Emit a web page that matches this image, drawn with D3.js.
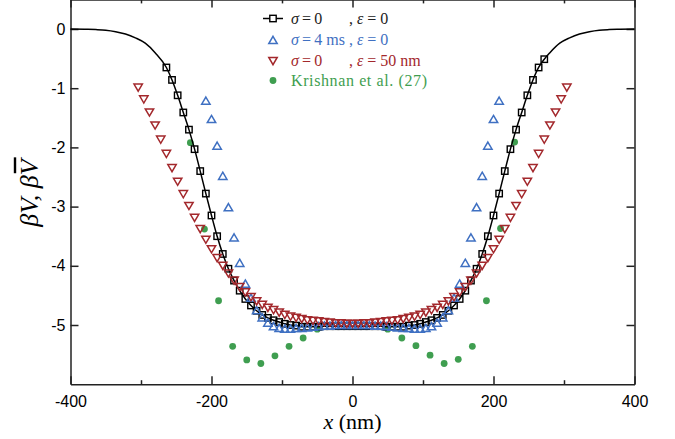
<!DOCTYPE html>
<html>
<head>
<meta charset="utf-8">
<script src="https://cdn.jsdelivr.net/npm/d3@7"></script>
<style>
  body { margin: 0; background: #fff; }
  svg { display: block; }
</style>
</head>
<body>
<svg id="chart" width="675" height="439"></svg>
<script>
// ---- data -------------------------------------------------------------
// sigma = 0, epsilon = 0 : sampled points (drawn with square markers)
const xBlack = [-264,-256,-248,-240,-232,-224,-216,-208,-200,-192,-184,-176,-168,-160,-152,-144,-136,-128,-120,-112,-104,-96,-88,-80,-72,-64,-56,-48,-40,-32,-24,-16,-8,
  0,8,16,24,32,40,48,56,64,72,80,88,96,104,112,120,128,136,144,152,160,168,176,184,192,200,208,216,224,232,240,248,256,264,272];
const vBlack = [-0.65,-0.86,-1.12,-1.41,-1.70,-2.03,-2.40,-2.78,-3.15,-3.50,-3.80,-4.05,-4.25,-4.42,-4.56,-4.67,-4.76,-4.83,-4.88,-4.92,-4.95,-4.98,-5.00,-5.01,-5.03,-5.03,-5.03,-5.03,-5.02,-5.02,-5.02,-5.02,-5.02,
  -5.02,-5.02,-5.02,-5.02,-5.02,-5.02,-5.03,-5.03,-5.03,-5.03,-5.01,-5.00,-4.98,-4.95,-4.92,-4.88,-4.83,-4.76,-4.67,-4.56,-4.42,-4.25,-4.05,-3.80,-3.50,-3.15,-2.78,-2.40,-2.03,-1.70,-1.41,-1.12,-0.86,-0.65,-0.51];
// tails of the same curve beyond the sampled range (line only)
const xTailLeft  = [-400,-380,-364,-350,-336,-322,-308,-294,-280];
const vTailLeft  = [0.00,-0.005,-0.01,-0.02,-0.045,-0.085,-0.15,-0.24,-0.40];
const xTailRight = [280,294,308,322,336,350,364,380,400];
const vTailRight = [-0.40,-0.24,-0.15,-0.085,-0.045,-0.02,-0.01,-0.005,0.00];

// sigma = 4 ms, epsilon = 0
const xBlue = [-208,-200,-192,-184,-176,-168,-160,-152,-144,-136,-128,-120,-112,-104,-96,-88,-80,-72,-64,-56,-48,-40,-32,-24,-16,-8,
  0,8,16,24,32,40,48,56,64,72,80,88,96,104,112,120,128,136,144,152,160,168,176,184,192,200,208];
const vBlue = [-1.22,-1.53,-1.98,-2.49,-3.02,-3.53,-3.96,-4.31,-4.55,-4.76,-4.88,-4.97,-5.03,-5.06,-5.07,-5.07,-5.06,-5.06,-5.05,-5.04,-5.03,-5.02,-5.02,-5.01,-5.01,-5.01,
  -5.01,-5.01,-5.01,-5.01,-5.02,-5.02,-5.03,-5.04,-5.05,-5.06,-5.06,-5.07,-5.07,-5.06,-5.03,-4.97,-4.88,-4.76,-4.55,-4.31,-3.96,-3.53,-3.02,-2.49,-1.98,-1.53,-1.22];

// sigma = 0, epsilon = 50 nm
const xRed = [-304,-296,-288,-280,-272,-264,-256,-248,-240,-232,-224,-216,-208,-200,-192,-184,-176,-168,-160,-152,-144,-136,-128,-120,-112,-104,-96,-88,-80,-72,-64,-56,-48,-40,-32,-24,-16,-8,
  0,8,16,24,32,40,48,56,64,72,80,88,96,104,112,120,128,136,144,152,160,168,176,184,192,200,208,216,224,232,240,248,256,264,272,280,288,296,304];
const vRed = [-0.98,-1.18,-1.40,-1.62,-1.86,-2.10,-2.34,-2.57,-2.78,-2.98,-3.18,-3.37,-3.55,-3.71,-3.86,-3.99,-4.12,-4.24,-4.35,-4.44,-4.52,-4.59,-4.65,-4.70,-4.74,-4.78,-4.82,-4.85,-4.87,-4.89,-4.91,-4.92,-4.93,-4.94,-4.95,-4.96,-4.96,-4.97,
  -4.97,-4.97,-4.96,-4.96,-4.95,-4.94,-4.93,-4.92,-4.91,-4.89,-4.87,-4.85,-4.82,-4.78,-4.74,-4.70,-4.65,-4.59,-4.52,-4.44,-4.35,-4.24,-4.12,-3.99,-3.86,-3.71,-3.55,-3.37,-3.18,-2.98,-2.78,-2.57,-2.34,-2.10,-1.86,-1.62,-1.40,-1.18,-0.98];

// Krishnan et al. (27)
const xGreen = [-230,-210,-190,-170,-150,-130,-110,-90,-70,-50,50,70,90,110,130,150,170,190,210,230];
const vGreen = [-1.92,-3.38,-4.59,-5.36,-5.59,-5.65,-5.52,-5.36,-5.22,-5.07,-5.07,-5.22,-5.35,-5.51,-5.65,-5.58,-5.36,-4.59,-3.37,-1.91];

// axis ticks
const xMajorTicks = [-400,-200,0,200,400];
const xMinorTicks = [-300,-100,100,300];
const yTicks = [0,-1,-2,-3,-4,-5];

// ---- colours ----------------------------------------------------------
const colBlack = "#000000";
const colBlue  = "#3f70c2";
const colRed   = "#a3282c";
const colGreen = "#3f9e50";
const axisCol  = "#222222";

// ---- scales -----------------------------------------------------------
const svg = d3.select("#chart");
const x = d3.scaleLinear().domain([-400, 400]).range([70.5, 634.5]);
const y = d3.scaleLinear().domain([-6, 0.5]).range([384.2, -0.6]);

const zip = (xs, vs) => xs.map((d, i) => ({x: d, v: vs[i]}));

// ---- axes -------------------------------------------------------------
const sansFont = "'Liberation Sans', Arial, sans-serif";
const serifFont = "'Liberation Serif', 'Times New Roman', serif";

function styleAxis(g) {
  g.selectAll("path.domain").attr("stroke", axisCol).attr("stroke-width", 1.5);
  g.selectAll(".tick line").attr("stroke", axisCol).attr("stroke-width", 1.5);
  g.selectAll(".tick text").attr("fill", "#000").style("font-family", sansFont).style("font-size", "16px");
}

const yBottom = y(-6), yTop = y(0.5), xLeft = x(-400), xRight = x(400);

// bottom
svg.append("g").attr("transform", `translate(0,${yBottom})`)
  .call(d3.axisBottom(x).tickValues(xMajorTicks).tickSizeInner(-8).tickSizeOuter(0).tickPadding(11).tickFormat(d => String(d)))
  .call(styleAxis);
svg.append("g").attr("transform", `translate(0,${yBottom})`)
  .call(d3.axisBottom(x).tickValues(xMinorTicks).tickSizeInner(-4).tickSizeOuter(0).tickFormat(""))
  .call(styleAxis).select("path.domain").remove();
// top
svg.append("g").attr("transform", `translate(0,${yTop})`)
  .call(d3.axisTop(x).tickValues(xMajorTicks).tickSizeInner(-8).tickSizeOuter(0).tickFormat(""))
  .call(styleAxis);
svg.append("g").attr("transform", `translate(0,${yTop})`)
  .call(d3.axisTop(x).tickValues(xMinorTicks).tickSizeInner(-4).tickSizeOuter(0).tickFormat(""))
  .call(styleAxis).select("path.domain").remove();
// left
svg.append("g").attr("transform", `translate(${xLeft},0)`)
  .call(d3.axisLeft(y).tickValues(yTicks).tickSizeInner(-8).tickSizeOuter(0).tickPadding(5).tickFormat(d => String(d)))
  .call(styleAxis);
// right
svg.append("g").attr("transform", `translate(${xRight},0)`)
  .call(d3.axisRight(y).tickValues(yTicks).tickSizeInner(-8).tickSizeOuter(0).tickFormat(""))
  .call(styleAxis);

// ---- axis titles ------------------------------------------------------
const xTitle = svg.append("text")
  .attr("x", x(0)).attr("y", 429).attr("text-anchor", "middle")
  .style("font-family", serifFont).style("font-size", "22px").attr("fill", "#000");
xTitle.append("tspan").style("font-style", "italic").text("x");
xTitle.append("tspan").text(" (nm)");

const yTitleG = svg.append("g").attr("transform", "translate(38,193) rotate(-90)");
const yTitle = yTitleG.append("text")
  .attr("x", 0).attr("y", 0).attr("text-anchor", "middle")
  .style("font-family", serifFont).style("font-size", "26px").style("font-style", "italic")
  .attr("fill", "#000")
  .text("βV, βV");
// bar over the final V (averaged potential)
{
  const node = yTitle.node();
  const n = node.getNumberOfChars();
  const s = node.getStartPositionOfChar(n - 1).x;
  const e = node.getEndPositionOfChar(n - 1).x;
  yTitleG.append("line")
    .attr("x1", s + 2).attr("x2", e + 2)
    .attr("y1", -23).attr("y2", -23)
    .attr("stroke", "#000").attr("stroke-width", 2.4);
}

// ---- marks ------------------------------------------------------------
const plot = svg.append("g");

// Krishnan et al. (27): filled dots
plot.append("g").selectAll("circle")
  .data(zip(xGreen, vGreen)).join("circle")
  .attr("cx", d => x(d.x)).attr("cy", d => y(d.v)).attr("r", 3.4)
  .attr("fill", colGreen);

// sigma = 0, epsilon = 0: continuous line plus square markers
const blackLinePts = zip(xTailLeft, vTailLeft).concat(zip(xBlack, vBlack), zip(xTailRight, vTailRight));
plot.append("path")
  .datum(blackLinePts)
  .attr("fill", "none").attr("stroke", colBlack).attr("stroke-width", 1.5)
  .attr("d", d3.line().x(d => x(d.x)).y(d => y(d.v)).curve(d3.curveMonotoneX));

const sq = 6.4;
plot.append("g").selectAll("rect")
  .data(zip(xBlack, vBlack)).join("rect")
  .attr("x", d => x(d.x) - sq / 2).attr("y", d => y(d.v) - sq / 2)
  .attr("width", sq).attr("height", sq)
  .attr("fill", "none").attr("stroke", colBlack).attr("stroke-width", 1.4);

const upTri = "M0,-4.2L4.2,3L-4.2,3Z";
const downTri = "M-4.2,-3L4.2,-3L0,4.2Z";

// sigma = 4 ms: open up-triangles
plot.append("g").selectAll("path")
  .data(zip(xBlue, vBlue)).join("path")
  .attr("d", upTri)
  .attr("transform", d => `translate(${x(d.x)},${y(d.v)})`)
  .attr("fill", "none").attr("stroke", colBlue).attr("stroke-width", 1.5);

// epsilon = 50 nm: open down-triangles
plot.append("g").selectAll("path")
  .data(zip(xRed, vRed)).join("path")
  .attr("d", downTri)
  .attr("transform", d => `translate(${x(d.x)},${y(d.v)})`)
  .attr("fill", "none").attr("stroke", colRed).attr("stroke-width", 1.5);

// ---- legend -----------------------------------------------------------
const legend = svg.append("g").style("font-family", serifFont).style("font-size", "16px");
const lx = 273, tx1 = 291, tx2 = 349;
const rows = [23.5, 44.5, 65.5, 86];

// row 1
legend.append("line").attr("x1", lx - 10).attr("x2", lx + 10).attr("y1", rows[0] - 5).attr("y2", rows[0] - 5)
  .attr("stroke", colBlack).attr("stroke-width", 1.5);
legend.append("rect").attr("x", lx - sq / 2).attr("y", rows[0] - 5 - sq / 2).attr("width", sq).attr("height", sq)
  .attr("fill", "#fff").attr("stroke", colBlack).attr("stroke-width", 1.4);
// row 2
legend.append("path").attr("d", upTri).attr("transform", `translate(${lx},${rows[1] - 4})`)
  .attr("fill", "none").attr("stroke", colBlue).attr("stroke-width", 1.5);
// row 3
legend.append("path").attr("d", downTri).attr("transform", `translate(${lx},${rows[2] - 5})`)
  .attr("fill", "none").attr("stroke", colRed).attr("stroke-width", 1.5);
// row 4
legend.append("circle").attr("cx", lx).attr("cy", rows[3] - 5.5).attr("r", 3.4).attr("fill", colGreen);

function legendText(yy, col, first, second, span) {
  const t1 = legend.append("text").attr("x", tx1).attr("y", yy).attr("fill", col);
  if (span) t1.attr("textLength", span).attr("lengthAdjust", "spacing");
  first.forEach(([s, it]) => t1.append("tspan").style("font-style", it ? "italic" : "normal").text(s));
  if (second) {
    const t2 = legend.append("text").attr("x", tx2).attr("y", yy).attr("fill", col);
    second.forEach(([s, it]) => t2.append("tspan").style("font-style", it ? "italic" : "normal").text(s));
  }
}
const ts = "\u2009";
legendText(rows[0], "#222", [["σ", true], [`${ts}=${ts}0`, false]], [[", ", false], ["ε", true], [" = 0", false]]);
legendText(rows[1], colBlue, [["σ", true], [`${ts}=${ts}4 ms`, false]], [[", ", false], ["ε", true], [" = 0", false]]);
legendText(rows[2], colRed, [["σ", true], [`${ts}=${ts}0`, false]], [[", ", false], ["ε", true], [" = 50 nm", false]]);
legendText(rows[3], colGreen, [["Krishnan et al. (27)", false]], null, 136);
</script>
</body>
</html>
